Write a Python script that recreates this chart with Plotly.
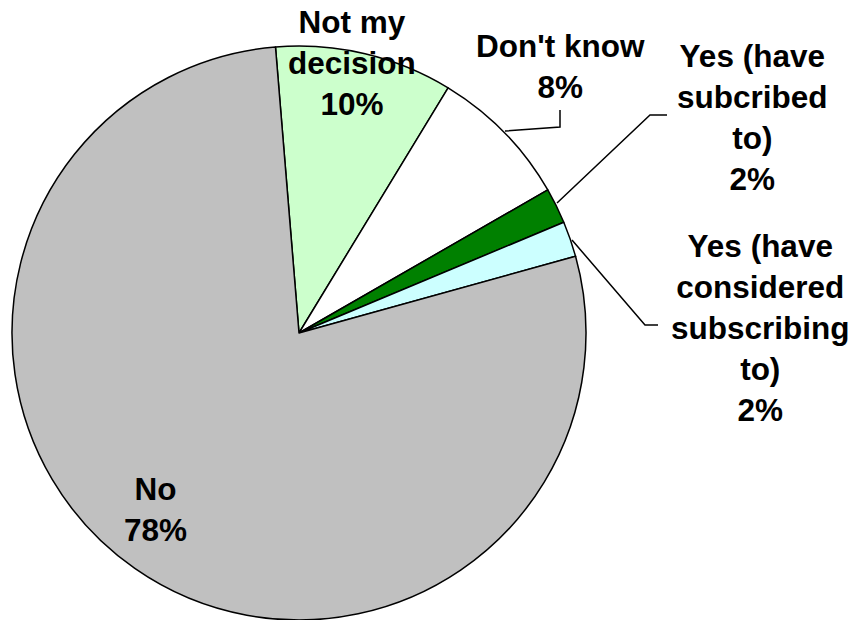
import plotly.graph_objects as go

# Survey answers, in clockwise order starting just left of 12 o'clock
labels = ["Not my decision", "Don't know", "Yes (have subcribed to)",
          "Yes (have considered subscribing to)", "No"]
values = [10, 8, 2, 2, 78]
label_text = ["Not my<br>decision<br>10%", "Don't know<br>8%",
              "Yes (have<br>subcribed<br>to)<br>2%",
              "Yes (have<br>considered<br>subscribing<br>to)<br>2%",
              "No<br>78%"]
colors = ["#CCFFCC", "#FFFFFF", "#008000", "#CCFFFF", "#C0C0C0"]

W, H = 858, 620


def px(x, y):
    """Pixel position -> paper coordinates (no margins)."""
    return x / W, 1 - y / H


# pie placement in pixels
cx, cy, r = 299, 333, 287

fig = go.Figure(go.Pie(
    labels=labels,
    values=values,
    sort=False,
    direction="clockwise",
    rotation=-4.7,
    textinfo="none",
    hoverinfo="label+percent",
    marker=dict(colors=colors, line=dict(color="#000000", width=1.5)),
    domain=dict(x=[(cx - r) / W, (cx + r) / W], y=[1 - (cy + r) / H, 1 - (cy - r) / H]),
    showlegend=False,
))

# label centres (pixels)
label_pos = [(352, 63), (560, 67), (752, 118), (760, 328), (155, 509)]
for txt, (x, y) in zip(label_text, label_pos):
    ax, ay = px(x, y)
    fig.add_annotation(
        x=ax, y=ay, xref="paper", yref="paper", text=txt, showarrow=False,
        xanchor="center", yanchor="middle", align="center",
        font=dict(family="Liberation Sans, Arial, sans-serif", size=31.5,
                  color="#000000", weight="bold"),
    )

# leader lines
leaders = [
    [(505, 131), (560, 127), (560, 110)],
    [(557, 203), (650, 115), (667, 115)],
    [(572, 240), (645, 325), (658, 325)],
]
for pts in leaders:
    path = ""
    for i, (x, y) in enumerate(pts):
        a, b = px(x, y)
        path += ("M" if i == 0 else " L") + f"{a},{b}"
    fig.add_shape(type="path", path=path, xref="paper", yref="paper",
                  line=dict(color="#000000", width=1.5))

fig.update_layout(
    width=W, height=H,
    margin=dict(l=0, r=0, t=0, b=0),
    paper_bgcolor="#FFFFFF",
    plot_bgcolor="#FFFFFF",
)

fig.write_html("out.html")
